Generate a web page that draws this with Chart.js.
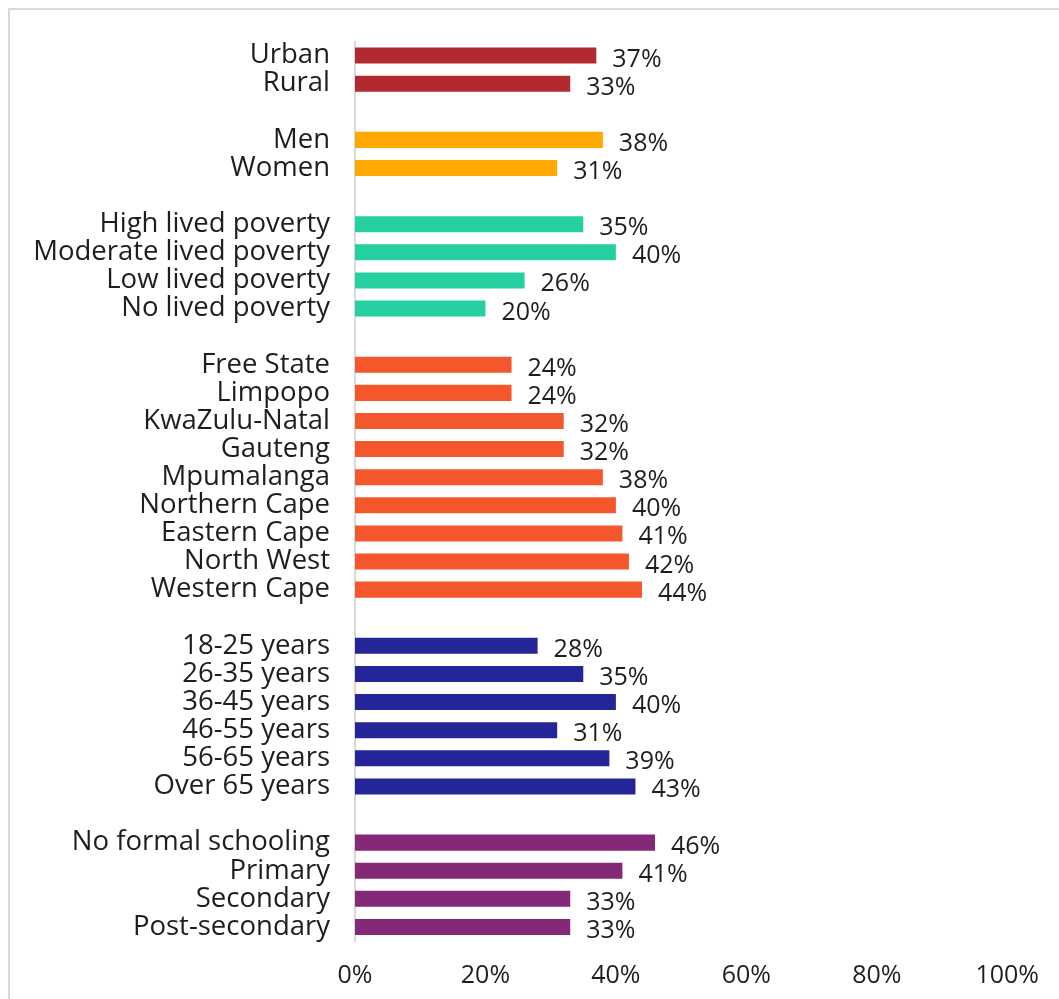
<!DOCTYPE html>
<html>
<head>
<meta charset="utf-8">
<script src="https://cdn.jsdelivr.net/npm/chart.js@4/dist/chart.umd.min.js"></script>
<style>
  html, body { margin: 0; padding: 0; background: #fff; overflow: hidden; }
  #frame { position: absolute; left: 8px; top: 8px; width: 1070px; height: 1010px; border: 2px solid #D9D9D9; box-sizing: border-box; }
  #wrap { position: absolute; left: 0; top: 0; width: 1059px; height: 999px; }
</style>
</head>
<body>
<div id="frame"></div>
<div id="wrap"><canvas id="c" width="1059" height="999"></canvas></div>
<script>
// ---- Data ----
const areaLabels = ['Urban', 'Rural'];
const areaValues = [37, 33];

const genderLabels = ['Men', 'Women'];
const genderValues = [38, 31];

const povertyLabels = ['High lived poverty', 'Moderate lived poverty', 'Low lived poverty', 'No lived poverty'];
const povertyValues = [35, 40, 26, 20];

const provinceLabels = ['Free State', 'Limpopo', 'KwaZulu-Natal', 'Gauteng', 'Mpumalanga', 'Northern Cape', 'Eastern Cape', 'North West', 'Western Cape'];
const provinceValues = [24, 24, 32, 32, 38, 40, 41, 42, 44];

const ageLabels = ['18-25 years', '26-35 years', '36-45 years', '46-55 years', '56-65 years', 'Over 65 years'];
const ageValues = [28, 35, 40, 31, 39, 43];

const educationLabels = ['No formal schooling', 'Primary', 'Secondary', 'Post-secondary'];
const educationValues = [46, 41, 33, 33];

const xTicks = [0, 20, 40, 60, 80, 100];

// ---- Styles ----
const groups = [
  { labels: areaLabels, values: areaValues, color: '#B22A30' },
  { labels: genderLabels, values: genderValues, color: '#FFA800' },
  { labels: povertyLabels, values: povertyValues, color: '#25D0A0' },
  { labels: provinceLabels, values: provinceValues, color: '#F4572B' },
  { labels: ageLabels, values: ageValues, color: '#25259A' },
  { labels: educationLabels, values: educationValues, color: '#842878' }
];

const labels = [], data = [], colors = [];
groups.forEach((g, gi) => {
  if (gi > 0) { labels.push(''); data.push(null); colors.push('rgba(0,0,0,0)'); }
  g.labels.forEach((l, i) => { labels.push(l); data.push(g.values[i]); colors.push(g.color); });
});

const FONT = '"Open Sans", Lato, sans-serif';
const TEXT = '#1e1e1e';

const valueLabels = {
  id: 'valueLabels',
  afterDatasetsDraw(chart) {
    const ctx = chart.ctx;
    const meta = chart.getDatasetMeta(0);
    ctx.save();
    ctx.font = '25px ' + FONT;
    ctx.fillStyle = TEXT;
    ctx.textAlign = 'left';
    ctx.textBaseline = 'alphabetic';
    meta.data.forEach((bar, i) => {
      const v = chart.data.datasets[0].data[i];
      if (v === null || v === undefined) return;
      ctx.fillText(Math.round(v) + '%', bar.x + 16, bar.y + 11);
    });
    ctx.restore();
  }
};

new Chart(document.getElementById('c'), {
  type: 'bar',
  data: {
    labels: labels,
    datasets: [{
      data: data,
      backgroundColor: colors,
      borderWidth: 0,
      barPercentage: 0.57,
      categoryPercentage: 1.0
    }]
  },
  options: {
    indexAxis: 'y',
    responsive: false,
    animation: false,
    layout: { padding: { top: 37, right: 47, bottom: 0, left: 0 } },
    plugins: { legend: { display: false }, tooltip: { enabled: false } },
    scales: {
      x: {
        min: 0, max: 100,
        afterBuildTicks(scale) { scale.ticks = xTicks.map(v => ({ value: v })); },
        afterFit(scale) { scale.height = 58; },
        grid: { display: false, drawTicks: false },
        border: { display: false },
        ticks: {
          padding: 20,
          color: TEXT,
          font: { family: FONT, size: 25 },
          callback: v => v + '%'
        }
      },
      y: {
        afterFit(scale) { scale.width = 355; },
        grid: { display: false, drawTicks: false },
        border: { display: true, color: '#D9D9D9', width: 2 },
        ticks: {
          padding: 25,
          autoSkip: false,
          color: TEXT,
          font: { family: FONT, size: 27.5 }
        }
      }
    }
  },
  plugins: [valueLabels]
});
</script>
</body>
</html>
